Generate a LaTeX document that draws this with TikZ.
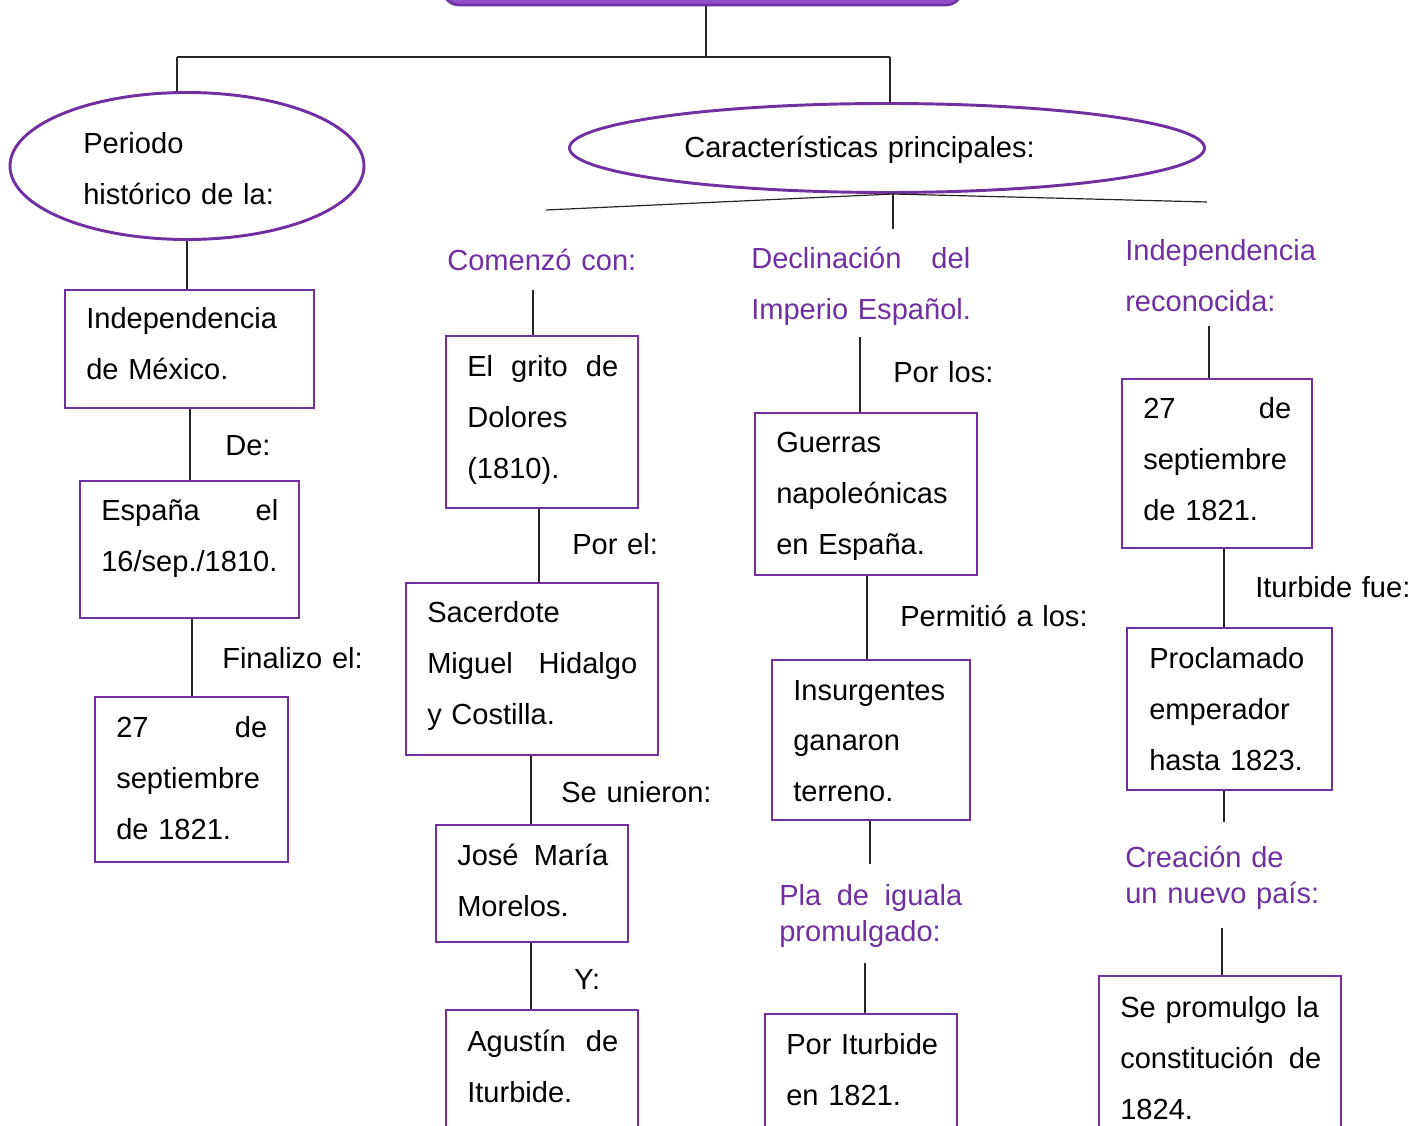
\documentclass[tikz,border=0pt]{standalone}
\usepackage{fontspec}
\setmainfont{Liberation Sans}
\usetikzlibrary{fit,shapes.geometric}
\hyphenpenalty=10000
\exhyphenpenalty=10000
\definecolor{purp}{HTML}{7030A0}
\definecolor{topfill}{HTML}{914FC7}
\tikzset{
  box/.style={draw=purp, line width=2.2pt, inner sep=0pt, fill=white},
  ell/.style={draw=purp, line width=2.2pt, ellipse, inner sep=0pt, fill=white},
  txt/.style={anchor=base west, inner sep=0pt, align=left, text width=200pt, font=\fontsize{21.8}{38.25}\selectfont, text=black},
  ptxt/.style={txt, text=purp},
  ptxtsm/.style={txt, font=\fontsize{21.8}{27}\selectfont, text=purp},
  conn/.style={line width=0.9pt, black!85}
}
\begin{document}
\begin{tikzpicture}[x=0.75pt,y=-0.75pt]
\useasboundingbox (0,0) rectangle (1425,1126);
% top box
\node[draw=purp, fill=topfill, line width=2pt, rounded corners=12pt, inner sep=0pt, fit={(443,-60) (962,5)}] (top) {};
% ellipses
\node[ell, minimum width=265.5pt, minimum height=110.25pt] (e1) at (187,166) {};
\node[txt] (e1t) at (83,154) {Periodo\\histórico de la:};
\node[ell, minimum width=476.25pt, minimum height=66.75pt] (e2) at (887,148) {};
\node[txt, text width=300pt] (e2t) at (684,158) {Características principales:};
% column 1
\node[box, fit={(65,290) (314,408)}] (bA) {};
\node[txt] (bAt) at (86,329) {Independencia\\de México.};
\node[txt] (lDe) at (225,456) {De:};
\node[box, fit={(80,481) (299,618)}] (bB) {};
\node[txt, text width=132.75pt] (bBt) at (101,521) {España\hfill el\\16/sep./1810.};
\node[txt] (lFin) at (222,668) {Finalizo el:};
\node[box, fit={(95,697) (288,862)}] (bC) {};
\node[txt, text width=113.25pt] (bCt) at (116,737) {27\hfill de\\septiembre\\de 1821.};
% column 2
\node[ptxt] (lCom) at (447,271) {Comenzó con:};
\node[box, fit={(446,336) (638,508)}] (bD) {};
\node[txt, text width=113.25pt] (bDt) at (467,377) {El\hfill grito\hfill de\\Dolores\\(1810).};
\node[txt] (lPorel) at (572,555) {Por el:};
\node[box, fit={(406,583) (658,755)}] (bE) {};
\node[txt, text width=157.5pt] (bEt) at (427,623) {Sacerdote\\Miguel\hfill Hidalgo\\y Costilla.};
\node[txt] (lSe) at (561,802) {Se unieron:};
\node[box, fit={(436,825) (628,942)}] (bF) {};
\node[txt, text width=113.25pt] (bFt) at (457,865) {José\hfill María\\Morelos.};
\node[txt] (lY) at (574,989) {Y:};
\node[box, fit={(446,1010) (638,1150)}] (bG) {};
\node[txt, text width=113.25pt] (bGt) at (467,1051) {Agustín\hfill de\\Iturbide.};
% column 3
\node[ptxt, text width=164.25pt] (lDec) at (751,269) {Declinación\hfill del\\\mbox{Imperio Español.}};
\node[txt] (lPorlos) at (893,383) {Por los:};
\node[box, fit={(755,413) (977,575)}] (bH) {};
\node[txt] (bHt) at (776,453) {Guerras\\napoleónicas\\en España.};
\node[txt] (lPer) at (900,627) {Permitió a los:};
\node[box, fit={(772,660) (970,820)}] (bI) {};
\node[txt] (bIt) at (793,700) {Insurgentes\\ganaron\\terreno.};
\node[ptxtsm, text width=137.25pt] (lPla) at (779,905) {Pla\hfill de\hfill iguala\\promulgado:};
\node[box, fit={(765,1014) (957,1150)}] (bJ) {};
\node[txt] (bJt) at (786,1054) {Por Iturbide\\en 1821.};
% column 4
\node[ptxt] (lInd) at (1125,261) {Independencia\\reconocida:};
\node[box, fit={(1122,379) (1312,548)}] (bK) {};
\node[txt, text width=111pt] (bKt) at (1143,419) {27\hfill de\\septiembre\\de 1821.};
\node[txt] (lItu) at (1255,598) {Iturbide fue:};
\node[box, fit={(1127,628) (1332,790)}] (bL) {};
\node[txt] (bLt) at (1149,668) {Proclamado\\emperador\\hasta 1823.};
\node[ptxtsm] (lCre) at (1125,867) {Creación de\\un nuevo país:};
\node[box, fit={(1099,976) (1341,1150)}] (bM) {};
\node[txt, text width=150.75pt] (bMt) at (1120,1017) {Se promulgo la\\constitución\hfill de\\1824.};
% connectors
\coordinate (j0) at (706,57);
\coordinate (jL) at (177,57);
\coordinate (jR) at (890,57);
\draw[conn] (706,0 |- top.south) -- (j0);
\draw[conn] (jL) -- (jR);
\draw[conn] (jL) -- (177,0 |- e1.north);
\draw[conn] (jR) -- (890,0 |- e2.north);
\draw[conn] (187,0 |- e1.south) -- (187,0 |- bA.north);
\draw[conn] (190,0 |- bA.south) -- (190,0 |- bB.north);
\draw[conn] (192,0 |- bB.south) -- (192,0 |- bC.north);
\coordinate (hub) at (893,194);
\coordinate (hubL) at (546,210);
\coordinate (hubR) at (1207,202);
\coordinate (hubD) at (893,229);
\draw[conn] (hubL) -- (hub) -- (hubR);
\draw[conn] (hub) -- (hubD);
\coordinate (c2a) at (533,290);
\draw[conn] (c2a) -- (533,0 |- bD.north);
\draw[conn] (539,0 |- bD.south) -- (539,0 |- bE.north);
\draw[conn] (531,0 |- bE.south) -- (531,0 |- bF.north);
\draw[conn] (531,0 |- bF.south) -- (531,0 |- bG.north);
\coordinate (c3a) at (860,337);
\draw[conn] (c3a) -- (860,0 |- bH.north);
\draw[conn] (867,0 |- bH.south) -- (867,0 |- bI.north);
\coordinate (c3b) at (870,864);
\draw[conn] (870,0 |- bI.south) -- (c3b);
\coordinate (c3c) at (865,963);
\draw[conn] (c3c) -- (865,0 |- bJ.north);
\coordinate (c4a) at (1209,326);
\draw[conn] (c4a) -- (1209,0 |- bK.north);
\draw[conn] (1224,0 |- bK.south) -- (1224,0 |- bL.north);
\coordinate (c4b) at (1224,822);
\draw[conn] (1224,0 |- bL.south) -- (c4b);
\coordinate (c4c) at (1222,928);
\draw[conn] (c4c) -- (1222,0 |- bM.north);
\end{tikzpicture}
\end{document}
